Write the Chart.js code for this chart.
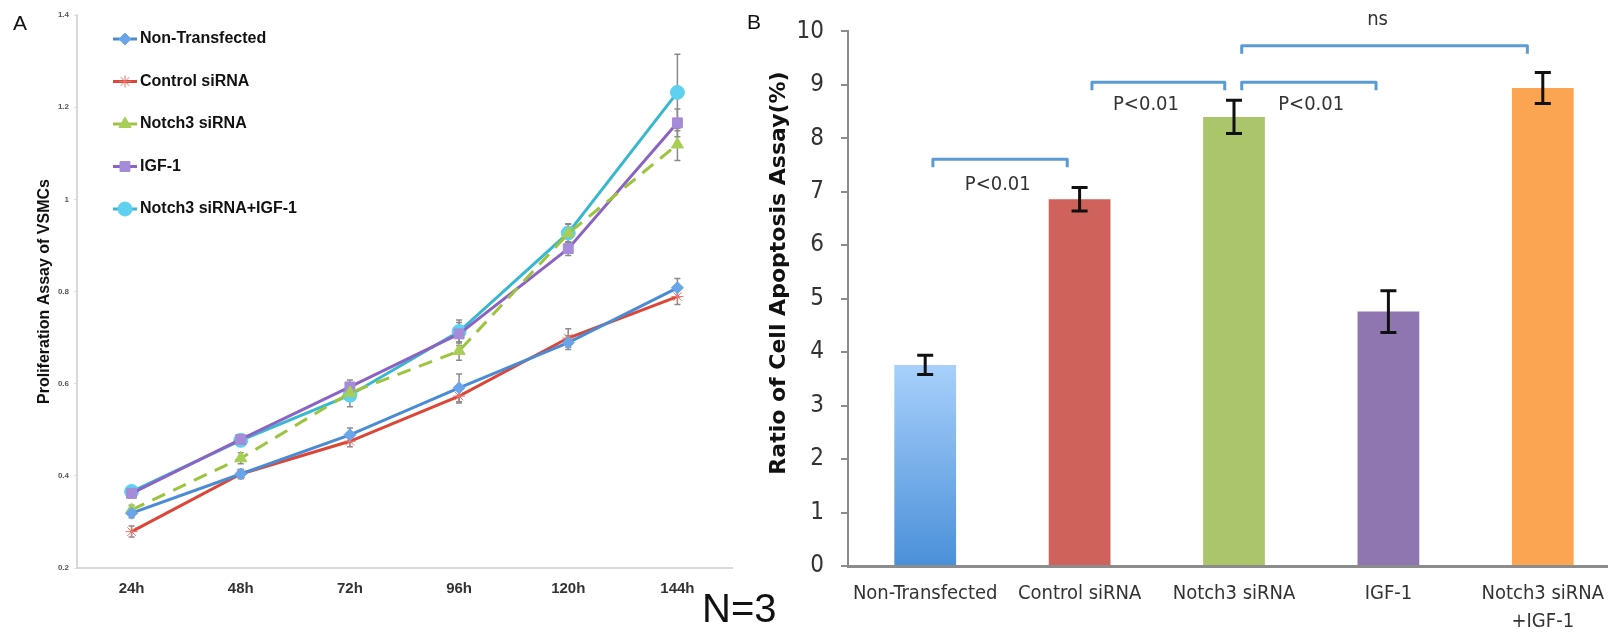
<!DOCTYPE html>
<html>
<head>
<meta charset="utf-8">
<script src="https://cdn.jsdelivr.net/npm/chart.js@4.4.0/dist/chart.umd.min.js"></script>
<style>
  html, body { margin: 0; padding: 0; background: #fff; }
  body { width: 1608px; height: 640px; overflow: hidden; position: relative; }
  canvas { position: absolute; top: 0; }
  #chartA { left: 0; }
  #chartB { left: 700px; }
  .lbl { position: absolute; font-family: 'Liberation Sans', Arial, sans-serif; line-height: 1; color: #111; white-space: nowrap; }
  #ytitleB { position: absolute; width: 500px; left: 528px; top: 260px; text-align: center; transform: rotate(-90deg);
    font: bold 22px 'DejaVu Sans', Verdana, sans-serif; line-height: 26px; color: #111; }
</style>
</head>
<body>
<canvas id="chartA" width="760" height="640"></canvas>
<canvas id="chartB" width="930" height="640"></canvas>
<div class="lbl" style="left:13px; top:12px; font-size:21px;">A</div>
<div class="lbl" style="left:747px; top:11px; font-size:21px;">B</div>
<div class="lbl" style="left:702px; top:588px; font-size:40px;">N=3</div>
<div id="ytitleB">Ratio of Cell Apoptosis Assay(%)</div>
<script>
'use strict'

// panel A: proliferation over time
const timeLabels = ['24h', '48h', '72h', '96h', '120h', '144h'];
const nonTransfected = [0.319, 0.404, 0.489, 0.591, 0.689, 0.808];
const controlSiRNA = [0.279, 0.404, 0.475, 0.573, 0.699, 0.789];
const notch3SiRNA = [0.326, 0.438, 0.580, 0.671, 0.926, 1.119];
const igf1 = [0.362, 0.479, 0.593, 0.708, 0.893, 1.166];
const notch3Igf1 = [0.366, 0.477, 0.575, 0.713, 0.927, 1.232];

const nonTransfectedErr = [0.010, 0.010, 0.015, 0.030, 0.015, 0.020];
const controlSiRNAErr = [0.012, 0.010, 0.012, 0.015, 0.020, 0.017];
const notch3SiRNAErr = [0.010, 0.012, 0.015, 0.020, 0.020, 0.035];
const igf1Err = [0.010, 0.010, 0.015, 0.025, 0.015, 0.030];
const notch3Igf1Err = [0.010, 0.012, 0.025, 0.025, 0.020, 0.083];

// panel B: apoptosis
const groups = ['Non-Transfected', 'Control siRNA', 'Notch3 siRNA', 'IGF-1', ['Notch3 siRNA', '+IGF-1']];
const apoptosis = [3.76, 6.86, 8.40, 4.76, 8.94];
const apoptosisErr = [0.18, 0.22, 0.31, 0.39, 0.29];

// significance brackets (category positions, y values)
const bracketFrom = [0.05, 1.08, 2.05, 2.05];
const bracketTo = [0.92, 1.94, 2.92, 3.90];
const bracketLevel = [7.61, 9.05, 9.05, 9.73];
const bracketText = ['P<0.01', 'P<0.01', 'P<0.01', 'ns'];
const bracketTextX = [0.47, 1.43, 2.50, 2.93];
const bracketTextY = [7.13, 8.62, 8.62, 10.22];

const narrow = "'Liberation Sans Narrow', 'DejaVu Sans Condensed', sans-serif";

const errorBars = {
  id: 'errorBars',
  beforeDatasetsDraw(chart, args, opts) { if (!opts.front) drawErrors(chart, opts); },
  afterDatasetsDraw(chart, args, opts) { if (opts.front) drawErrors(chart, opts); }
};

function drawErrors(chart, opts){
  const ctx = chart.ctx;
  const yScale = chart.scales.y;
  ctx.save();
  ctx.strokeStyle = opts.color;
  ctx.lineWidth = opts.width;
  chart.data.datasets.forEach((ds, di) => {
    if (!ds.errors) return;
    chart.getDatasetMeta(di).data.forEach((el, i) => {
      const v = ds.data[i], e = ds.errors[i];
      const top = yScale.getPixelForValue(v + e);
      const bot = yScale.getPixelForValue(v - e);
      ctx.beginPath();
      ctx.moveTo(el.x, top); ctx.lineTo(el.x, bot);
      ctx.moveTo(el.x - opts.cap, top); ctx.lineTo(el.x + opts.cap, top);
      ctx.moveTo(el.x - opts.cap, bot); ctx.lineTo(el.x + opts.cap, bot);
      ctx.stroke();
    });
  });
  ctx.restore();
}

const sideLegend = {
  id: 'sideLegend',
  afterDraw(chart, args, opts) {
    const ctx = chart.ctx;
    chart.data.datasets.forEach((ds, i) => {
      const y = opts.top + i * opts.gap;
      ctx.save();
      ctx.strokeStyle = ds.borderColor;
      ctx.lineWidth = 3;
      ctx.beginPath();
      ctx.moveTo(opts.left, y);
      ctx.lineTo(opts.left + opts.lineLength, y);
      ctx.stroke();
      ctx.fillStyle = ds.pointBackgroundColor;
      ctx.strokeStyle = ds.pointBorderColor;
      ctx.lineWidth = ds.pointBorderWidth;
      Chart.helpers.drawPoint(ctx, {pointStyle: ds.pointStyle, radius: ds.pointRadius, borderWidth: ds.pointBorderWidth, rotation: 0},
        opts.left + opts.lineLength / 2, y);
      ctx.fillStyle = '#111';
      ctx.font = opts.font;
      ctx.textBaseline = 'middle';
      ctx.fillText(ds.label, opts.left + opts.lineLength + 3, y);
      ctx.restore();
    });
  }
};

const brackets = {
  id: 'brackets',
  afterDatasetsDraw(chart) {
    const x = chart.scales.x, y = chart.scales.y, ctx = chart.ctx;
    ctx.save();
    bracketFrom.forEach((f, i) => {
      const x0 = x.getPixelForValue(f), x1 = x.getPixelForValue(bracketTo[i]);
      const yy = y.getPixelForValue(bracketLevel[i]);
      ctx.strokeStyle = '#5b9bd5';
      ctx.lineWidth = 3;
      ctx.lineJoin = 'round';
      ctx.beginPath();
      ctx.moveTo(x0, yy + 8); ctx.lineTo(x0, yy); ctx.lineTo(x1, yy); ctx.lineTo(x1, yy + 8);
      ctx.stroke();
      ctx.fillStyle = '#333';
      ctx.font = '20px ' + narrow;
      ctx.textAlign = 'center';
      ctx.textBaseline = 'middle';
      ctx.fillText(bracketText[i], x.getPixelForValue(bracketTextX[i]), y.getPixelForValue(bracketTextY[i]));
    });
    ctx.restore();
  }
};

function lineSet(label, data, errors, color, pointStyle, pointColor, radius, dash){
  return {
    label: label, data: data, errors: errors,
    borderColor: color, borderWidth: 3, borderDash: dash || [],
    pointStyle: pointStyle, pointRadius: radius,
    pointBackgroundColor: pointColor, pointBorderColor: pointColor, pointBorderWidth: 1,
    fill: false, tension: 0
  };
}

chartA();
chartB();

function chartA(){
  const ctx = document.getElementById('chartA').getContext('2d');
  new Chart(ctx, {
    type: 'line',
    data: {
      labels: timeLabels,
      datasets: [
        lineSet('Non-Transfected', nonTransfected, nonTransfectedErr, '#4a8bd6', 'rectRot', '#6aa5ea', 6),
        lineSet('Control siRNA', controlSiRNA, controlSiRNAErr, '#dc4637', 'star', '#e8756b', 6),
        lineSet('Notch3 siRNA', notch3SiRNA, notch3SiRNAErr, '#9cc43f', 'triangle', '#a8cf55', 7, [14, 9]),
        lineSet('IGF-1', igf1, igf1Err, '#8b63c3', 'rect', '#a58bd8', 7),
        lineSet('Notch3 siRNA+IGF-1', notch3Igf1, notch3Igf1Err, '#38b7d0', 'circle', '#5fd0ef', 7)
      ]
    },
    options: {
      responsive: false,
      animation: false,
      layout: {padding: {left: 0, top: 15, right: 28, bottom: 0}},
      scales: {
        x: {
          offset: true,
          grid: {display: false, drawTicks: false},
          border: {color: '#d9d9d9', width: 2},
          ticks: {color: '#333', padding: 12, font: {family: 'Liberation Sans', size: 15, weight: 'bold'}},
          afterFit: s => { s.height = 72; }
        },
        y: {
          min: 0.2, max: 1.4,
          ticks: {stepSize: 0.2, color: '#555', padding: 5, font: {family: 'Liberation Sans', size: 8, weight: 'bold'},
            callback: v => String(+v.toFixed(1))},
          grid: {drawOnChartArea: false, tickLength: 3, color: '#ddd'},
          border: {color: '#d9d9d9', width: 2},
          title: {display: true, text: 'Proliferation Assay of VSMCs', color: '#111',
            padding: {top: 35, bottom: 0}, font: {family: 'Liberation Sans', size: 16, weight: 'bold'}},
          afterFit: s => { s.width = 77; }
        }
      },
      plugins: {
        legend: {display: false},
        tooltip: {enabled: false},
        errorBars: {color: '#8a8a8a', width: 1.5, cap: 3, front: false},
        sideLegend: {left: 113, top: 39, gap: 42.5, lineLength: 24, font: 'bold 16px Liberation Sans'}
      }
    },
    plugins: [errorBars, sideLegend]
  });
}

function chartB(){
  const ctx = document.getElementById('chartB').getContext('2d');
  const solid = ['#a6cffb', '#cf625a', '#abc56b', '#8f76b1', '#fba552'];
  new Chart(ctx, {
    type: 'bar',
    data: {
      labels: groups,
      datasets: [{
        label: 'Ratio of Cell Apoptosis Assay(%)',
        data: apoptosis,
        errors: apoptosisErr,
        backgroundColor: c => {
          if (c.dataIndex !== 0) return solid[c.dataIndex];
          const chart = c.chart;
          if (!chart.chartArea) return solid[0];
          const yScale = chart.scales.y;
          const g = chart.ctx.createLinearGradient(0, yScale.getPixelForValue(apoptosis[0]), 0, yScale.getPixelForValue(0));
          g.addColorStop(0, '#a8d0fb');
          g.addColorStop(1, '#4a90d9');
          return g;
        },
        barPercentage: 0.4,
        categoryPercentage: 1.0
      }]
    },
    options: {
      responsive: false,
      animation: false,
      layout: {padding: {left: 0, top: 30, right: 10, bottom: 0}},
      scales: {
        x: {
          offset: true,
          grid: {display: false, drawTicks: false},
          border: {color: '#8c8c8c', width: 3},
          ticks: {color: '#333', padding: 14, maxRotation: 0, font: {family: narrow, size: 20, lineHeight: 1.4}},
          afterFit: s => { s.height = 74; }
        },
        y: {
          min: 0, max: 10,
          ticks: {stepSize: 1, color: '#333', padding: 17, font: {family: narrow, size: 24}},
          grid: {drawOnChartArea: false, tickLength: 7, color: '#8c8c8c', lineWidth: 2},
          border: {color: '#8c8c8c', width: 2},
          afterFit: s => { s.width = 148; }
        }
      },
      plugins: {
        legend: {display: false},
        tooltip: {enabled: false},
        errorBars: {color: '#111', width: 3, cap: 8, front: true}
      }
    },
    plugins: [errorBars, brackets]
  });
}
</script>
</body>
</html>
